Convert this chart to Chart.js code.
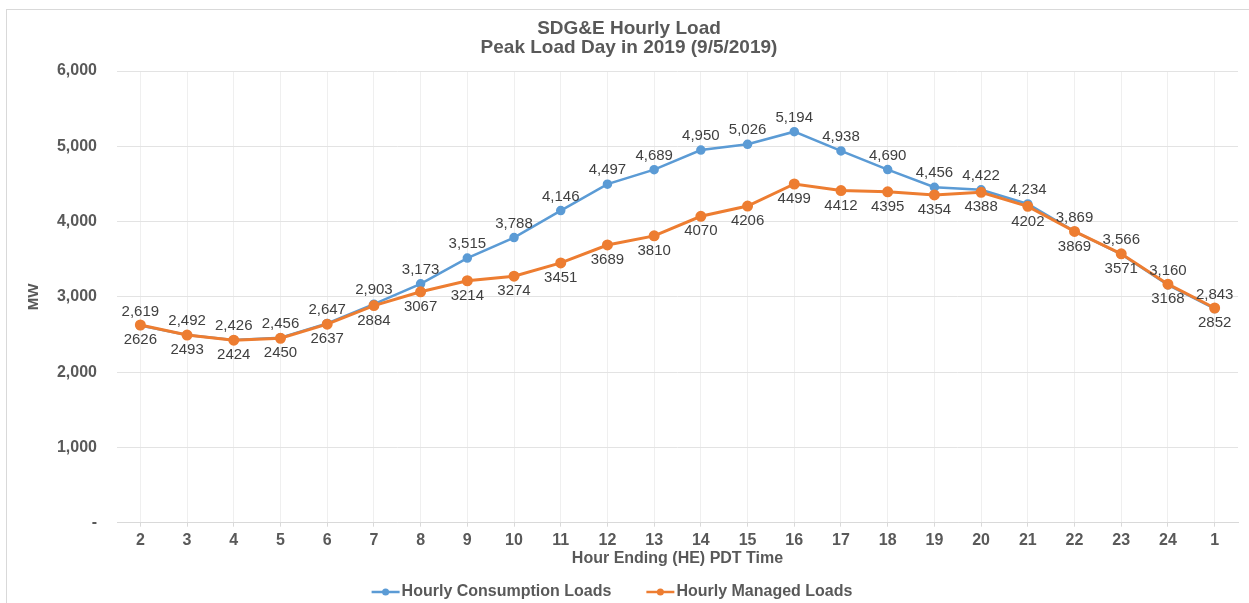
<!DOCTYPE html>
<html>
<head>
<meta charset="utf-8">
<script src="https://cdn.jsdelivr.net/npm/chart.js@4"></script>
<style>
  html, body { margin: 0; padding: 0; background: #fff; }
  #wrap { width: 1249px; height: 603px; }
</style>
</head>
<body>
<div id="wrap"><canvas id="grafica" width="1249" height="603"></canvas></div>
<script>
// hour ending labels and loads (MW)
const hours = ['2', '3', '4', '5', '6', '7', '8', '9', '10', '11', '12', '13', '14', '15', '16', '17', '18', '19', '20', '21', '22', '23', '24', '1'];
const consumptionLoads = [2619, 2492, 2426, 2456, 2647, 2903, 3173, 3515, 3788, 4146, 4497, 4689, 4950, 5026, 5194, 4938, 4690, 4456, 4422, 4234, 3869, 3566, 3160, 2843];
const managedLoads = [2626, 2493, 2424, 2450, 2637, 2884, 3067, 3214, 3274, 3451, 3689, 3810, 4070, 4206, 4499, 4412, 4395, 4354, 4388, 4202, 3869, 3571, 3168, 2852];
const yTicks = [0, 1000, 2000, 3000, 4000, 5000, 6000];

const FONT = 'Liberation Sans, Arial, sans-serif';
const GRIS = '#595959';

// marco gris claro arriba e izquierda
const marco = {
  id: 'marco',
  beforeDraw(chart) {
    const ctx = chart.ctx;
    ctx.save();
    ctx.strokeStyle = '#d9d9d9';
    ctx.lineWidth = 1;
    ctx.strokeRect(6.5, 9.5, chart.width + 20, chart.height + 20);
    ctx.restore();
  }
};

// etiquetas de datos: azul arriba, naranja abajo
const etiquetas = {
  id: 'etiquetas',
  afterDatasetsDraw(chart) {
    const ctx = chart.ctx;
    ctx.save();
    ctx.font = '15px ' + FONT;
    ctx.fillStyle = '#404040';
    ctx.textAlign = 'center';
    ctx.textBaseline = 'middle';
    chart.data.datasets.forEach((ds, i) => {
      const meta = chart.getDatasetMeta(i);
      meta.data.forEach((pt, j) => {
        const v = ds.data[j];
        const txt = ds.conComas ? v.toLocaleString('en-US') : String(v);
        const dy = ds.arriba ? -14 : 15;
        ctx.fillText(txt, pt.x, pt.y + dy);
      });
    });
    ctx.restore();
  }
};

// leyenda con linea y punto
const leyenda = {
  id: 'leyenda',
  afterDraw(chart) {
    const ctx = chart.ctx;
    const lineLen = 28, gap = 2, sep = 35, cx = 612, cy = 592;
    ctx.save();
    ctx.font = 'bold 16px ' + FONT;
    ctx.textBaseline = 'middle';
    const items = chart.data.datasets.map(ds => ({ ds, w: ctx.measureText(ds.label).width }));
    const total = items.reduce((s, it) => s + lineLen + gap + it.w, 0) + sep * (items.length - 1);
    let x = cx - total / 2;
    items.forEach(it => {
      ctx.strokeStyle = it.ds.borderColor;
      ctx.lineWidth = 2.5;
      ctx.beginPath();
      ctx.moveTo(x, cy);
      ctx.lineTo(x + lineLen, cy);
      ctx.stroke();
      ctx.fillStyle = it.ds.borderColor;
      ctx.beginPath();
      ctx.arc(x + lineLen / 2, cy, 3.5, 0, Math.PI * 2);
      ctx.fill();
      ctx.fillStyle = GRIS;
      ctx.fillText(it.ds.label, x + lineLen + gap, cy);
      x += lineLen + gap + it.w + sep;
    });
    ctx.restore();
  }
};

document.addEventListener('DOMContentLoaded', function () {
  const ctx = document.getElementById('grafica');

  new Chart(ctx, {
    type: 'line',
    data: {
      labels: hours,
      datasets: [{
        label: 'Hourly Consumption Loads',
        data: consumptionLoads,
        borderColor: '#5B9BD5',
        backgroundColor: '#5B9BD5',
        borderWidth: 2.5,
        pointRadius: 3.5,
        pointHoverRadius: 3.5,
        tension: 0,
        order: 2,
        arriba: true,
        conComas: true
      }, {
        label: 'Hourly Managed Loads',
        data: managedLoads,
        borderColor: '#ED7D31',
        backgroundColor: '#ED7D31',
        borderWidth: 3,
        pointRadius: 4,
        pointHoverRadius: 4,
        tension: 0,
        order: 1,
        arriba: false,
        conComas: false
      }]
    },
    options: {
      responsive: false,
      animation: false,
      devicePixelRatio: 1,
      layout: { padding: { left: 20, right: 11, top: 0, bottom: 0 } },
      plugins: {
        legend: { display: false },
        tooltip: { enabled: false },
        title: {
          display: true,
          text: ['SDG&E Hourly Load', 'Peak Load Day in 2019 (9/5/2019)'],
          color: GRIS,
          font: { family: FONT, size: 19, weight: 'bold', lineHeight: 1 },
          padding: { top: 19.5, bottom: 13.5 }
        }
      },
      scales: {
        x: {
          offset: true,
          grid: {
            offset: false,
            color: '#efefef',
            tickColor: '#d9d9d9',
            tickLength: 4
          },
          border: { color: '#d9d9d9' },
          ticks: {
            color: GRIS,
            font: { family: FONT, size: 16, weight: 'bold' },
            padding: 4,
            maxRotation: 0,
            autoSkip: false
          },
          title: {
            display: true,
            text: 'Hour Ending (HE) PDT Time',
            color: GRIS,
            font: { family: FONT, size: 16, weight: 'bold' },
            padding: { top: 0, bottom: 34.6 }
          },
          afterFit(scale) { scale.height = 80.3; }
        },
        y: {
          min: 0,
          max: 6000,
          afterBuildTicks(scale) { scale.ticks = yTicks.map(v => ({ value: v })); },
          grid: { color: '#e3e3e3', drawTicks: false },
          border: { display: false },
          ticks: {
            color: GRIS,
            font: { family: FONT, size: 16, weight: 'bold' },
            padding: 20,
            callback: v => v === 0 ? '-' : v.toLocaleString('en-US')
          },
          title: {
            display: true,
            text: 'MW',
            color: GRIS,
            font: { family: FONT, size: 15, weight: 'bold' },
            padding: { top: 4.5, bottom: 0 }
          },
          afterFit(scale) { scale.width = 97; }
        }
      }
    },
    plugins: [marco, etiquetas, leyenda]
  });
});
</script>
</body>
</html>
